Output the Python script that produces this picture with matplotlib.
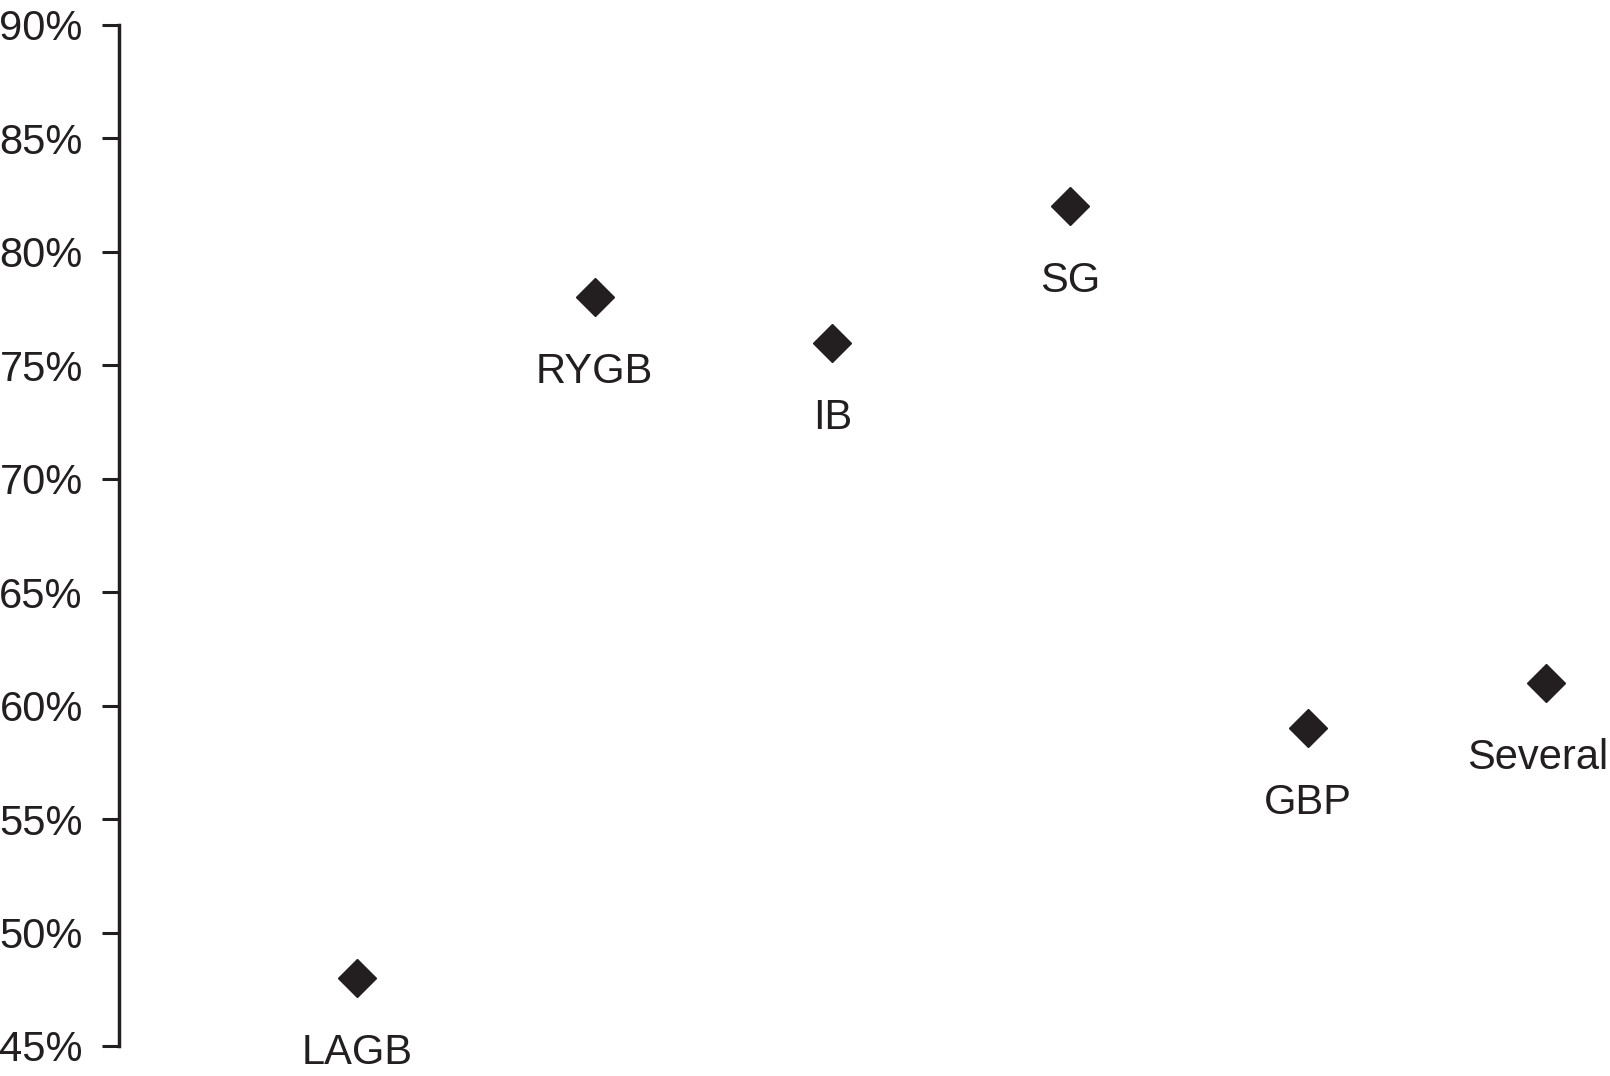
import matplotlib.pyplot as plt
from matplotlib.ticker import FuncFormatter

# Données
procedures = ['LAGB', 'RYGB', 'IB', 'SG', 'GBP', 'Several']
valeurs = [48, 78, 76, 82, 59, 61]  # en %
y_ticks = [45, 50, 55, 60, 65, 70, 75, 80, 85, 90]

couleur = '#231f20'
plt.rcParams['font.family'] = ['Liberation Sans', 'DejaVu Sans']

fig = plt.figure(figsize=(16.1, 10.76), dpi=100)
ax = fig.add_axes([0.0739, 0.0279, 0.9261, 0.9489])

x = list(range(1, len(procedures) + 1))
ax.plot(x, valeurs, linestyle='none', marker='D', markersize=19,
        color=couleur, clip_on=False)

for xi, yi, nom in zip(x, valeurs, procedures):
    dx = -6 if nom == 'Several' else 0
    ax.annotate(nom, (xi, yi), xytext=(dx, -54), textcoords='offset points',
                ha='center', va='center', fontsize=30, color=couleur,
                annotation_clip=False)

ax.set_xlim(0, 6.27)
ax.set_ylim(45, 90)
ax.set_yticks(y_ticks)
ax.yaxis.set_major_formatter(FuncFormatter(lambda v, p: f"{v:.0f}%"))
ax.tick_params(axis='y', length=12, width=2.2, pad=14, labelsize=30,
               colors=couleur)
ax.set_xticks([])

for s in ['top', 'right', 'bottom']:
    ax.spines[s].set_visible(False)
ax.spines['left'].set_linewidth(2.5)
ax.spines['left'].set_color(couleur)

fig.savefig('out.png', dpi=100)
